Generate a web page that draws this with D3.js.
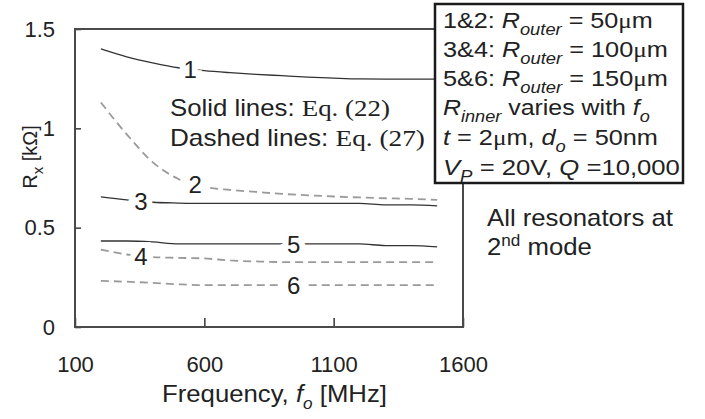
<!DOCTYPE html>
<html>
<head>
<meta charset="utf-8">
<script src="https://cdn.jsdelivr.net/npm/d3@7/dist/d3.min.js"></script>
<style>
  html, body { margin: 0; padding: 0; background: #fff; }
  svg { display: block; }
  text { font-family: "Liberation Sans", Arial, sans-serif; fill: #222; }
  .serif { font-family: "Liberation Serif", "Times New Roman", serif; }
</style>
</head>
<body>
<svg id="chart" width="705" height="419"></svg>
<script>
// Motional resistance Rx vs. frequency for ring resonators (2nd mode)
const freqs = [200, 300, 400, 500, 600, 700, 800, 900, 1000, 1100, 1200, 1300, 1400, 1500];

// Solid lines (Eq. 22) and dashed lines (Eq. 27), values in kΩ
const curve1 = [1.40, 1.36, 1.33, 1.305, 1.29, 1.28, 1.272, 1.265, 1.258, 1.253, 1.249, 1.248, 1.248, 1.248];
const curve2 = [1.13, 0.97, 0.83, 0.745, 0.705, 0.69, 0.68, 0.67, 0.663, 0.657, 0.652, 0.648, 0.645, 0.64];
const curve3 = [0.655, 0.64, 0.628, 0.624, 0.622, 0.622, 0.622, 0.622, 0.622, 0.622, 0.622, 0.615, 0.615, 0.61];
const curve4 = [0.39, 0.365, 0.352, 0.348, 0.345, 0.335, 0.33, 0.327, 0.327, 0.327, 0.327, 0.327, 0.327, 0.327];
const curve5 = [0.433, 0.433, 0.428, 0.418, 0.418, 0.418, 0.418, 0.418, 0.418, 0.418, 0.418, 0.41, 0.41, 0.403];
const curve6 = [0.232, 0.228, 0.222, 0.215, 0.211, 0.211, 0.211, 0.211, 0.211, 0.211, 0.211, 0.211, 0.211, 0.211];

const seriesNames = ["1", "2", "3", "4", "5", "6"];
const seriesData = [curve1, curve2, curve3, curve4, curve5, curve6];
const seriesDashed = [false, true, false, true, false, true];
// where each curve number sits along its curve (MHz)
const labelFreqs = [545, 565, 355, 355, 945, 945];

const xTickValues = [100, 600, 1100, 1600];
const xTickLabels = ["100", "600", "1100", "1600"];
const yTickValues = [0, 0.5, 1, 1.5];
const yTickLabels = ["0", "0.5", "1", "1.5"];

const svg = d3.select("#chart");
const plotL = 75, plotR = 463, plotT = 29, plotB = 327;

const x = d3.scaleLinear().domain([100, 1600]).range([plotL, plotR]);
const y = d3.scaleLinear().domain([0, 1.5]).range([plotB, plotT]);

// stretch a text element horizontally (about its start x) to a given width
function fitWidth(t, x0, width) {
  const w = t.node().getComputedTextLength();
  const s = width / w;
  t.attr("transform", `translate(${x0},0) scale(${s},1) translate(${-x0},0)`);
}

// axes
const xAxis = d3.axisBottom(x)
  .tickValues(xTickValues)
  .tickFormat((d, i) => xTickLabels[i])
  .tickSize(-9)
  .tickPadding(29);
const gx = svg.append("g").attr("transform", `translate(0,${plotB})`).call(xAxis);

const yAxis = d3.axisLeft(y)
  .tickValues(yTickValues)
  .tickFormat((d, i) => yTickLabels[i])
  .tickSize(-6)
  .tickPadding(20);
const gy = svg.append("g").attr("transform", `translate(${plotL},0)`).call(yAxis);

[gx, gy].forEach(g => {
  g.select(".domain").remove();
  g.selectAll(".tick line").attr("stroke", "#444").attr("stroke-width", 1.6);
  g.selectAll(".tick text")
    .style("font-family", '"Liberation Sans", Arial, sans-serif')
    .style("font-size", "22px").attr("fill", "#222");
});

// plot frame
svg.append("rect")
  .attr("x", plotL).attr("y", plotT)
  .attr("width", plotR - plotL).attr("height", plotB - plotT)
  .attr("fill", "none").attr("stroke", "#4a4a4a").attr("stroke-width", 2);

// curves
const line = d3.line()
  .x((d, i) => x(freqs[i]))
  .y(d => y(d))
  .curve(d3.curveMonotoneX);

seriesData.forEach((vals, k) => {
  svg.append("path")
    .datum(vals)
    .attr("d", line)
    .attr("fill", "none")
    .attr("stroke", seriesDashed[k] ? "#9a9a9a" : "#333")
    .attr("stroke-width", seriesDashed[k] ? 1.8 : 1.3)
    .attr("stroke-dasharray", seriesDashed[k] ? "8,5" : null);
});

// curve numbers, sitting on their curves with a white knock-out
seriesNames.forEach((name, k) => {
  const f = labelFreqs[k];
  const v = d3.scaleLinear().domain(freqs).range(seriesData[k])(f);
  svg.append("text")
    .attr("x", x(f)).attr("y", y(v))
    .attr("dy", "0.36em")
    .attr("text-anchor", "middle")
    .style("font-size", "24px")
    .style("paint-order", "stroke")
    .attr("stroke", "#fff").attr("stroke-width", 12)
    .text(name);
});

// line-style note
const note = svg.append("g").style("font-size", "23px");
const n1 = note.append("text").attr("x", 170).attr("y", 116);
n1.append("tspan").text("Solid lines: ");
n1.append("tspan").attr("class", "serif").style("font-size", "24px").text("Eq. (22)");
fitWidth(n1, 170, 220);
const n2 = note.append("text").attr("x", 170).attr("y", 146);
n2.append("tspan").text("Dashed lines: ");
n2.append("tspan").attr("class", "serif").style("font-size", "24px").text("Eq. (27)");
fitWidth(n2, 170, 255);

// parameter box
svg.append("rect")
  .attr("x", 435).attr("y", 4).attr("width", 248).attr("height", 179)
  .attr("fill", "#fff").attr("stroke", "#1a1a1a").attr("stroke-width", 2.5);

const box = svg.append("g").style("font-size", "22px");
const bx = 443;
const lineY = [28, 57, 86, 115, 145, 175];
const lineW = [210, 225, 225, 207, 215, 237];

function addRuns(t, runs) {
  runs.forEach(r => {
    const ts = t.append("tspan").text(r.t);
    if (r.i) ts.style("font-style", "italic");
    if (r.serif) ts.attr("class", "serif");
    if (r.sub) ts.attr("dy", 7).style("font-size", "16px");
    if (r.up) ts.attr("dy", -7);
  });
  return t;
}

const outerRows = [["1&2: ", "50"], ["3&4: ", "100"], ["5&6: ", "150"]];
const boxLines = outerRows.map((row, i) =>
  addRuns(box.append("text").attr("x", bx).attr("y", lineY[i]), [
    { t: row[0] },
    { t: "R", i: true },
    { t: "outer", i: true, sub: true },
    { t: " = " + row[1], up: true },
    { t: "μ", serif: true },
    { t: "m" }
  ]));
boxLines.push(addRuns(box.append("text").attr("x", bx).attr("y", lineY[3]), [
  { t: "R", i: true },
  { t: "inner", i: true, sub: true },
  { t: " varies with ", up: true },
  { t: "f", i: true },
  { t: "o", i: true, sub: true }
]));
boxLines.push(addRuns(box.append("text").attr("x", bx).attr("y", lineY[4]), [
  { t: "t", i: true },
  { t: " = 2" },
  { t: "μ", serif: true },
  { t: "m, " },
  { t: "d", i: true },
  { t: "o", i: true, sub: true },
  { t: " = 50nm", up: true }
]));
boxLines.push(addRuns(box.append("text").attr("x", bx).attr("y", lineY[5]), [
  { t: "V", i: true },
  { t: "P", i: true, sub: true },
  { t: " = 20V, ", up: true },
  { t: "Q", i: true },
  { t: " =10,000" }
]));
boxLines.forEach((t, i) => fitWidth(t, bx, lineW[i]));

// mode note
const mode = svg.append("g").style("font-size", "24px");
const m1 = mode.append("text").attr("x", 487).attr("y", 226).text("All resonators at");
fitWidth(m1, 487, 186);
const m2 = mode.append("text").attr("x", 487).attr("y", 255);
m2.append("tspan").text("2");
m2.append("tspan").attr("dy", -9).style("font-size", "16px").text("nd");
m2.append("tspan").attr("dy", 9).text(" mode");
fitWidth(m2, 487, 105);

// axis titles
const xt = svg.append("text")
  .attr("x", 162).attr("y", 402)
  .style("font-size", "24px");
addRuns(xt, [
  { t: "Frequency, " },
  { t: "f", i: true },
  { t: "o", i: true, sub: true },
  { t: " [MHz]", up: true }
]);
fitWidth(xt, 162, 225);

const yt = svg.append("text")
  .attr("transform", "translate(37,157) rotate(-90)")
  .attr("text-anchor", "middle").style("font-size", "20px");
yt.append("tspan").text("R");
yt.append("tspan").attr("dy", 6).style("font-size", "15px").text("x");
yt.append("tspan").attr("dy", -6).text(" [kΩ]");
</script>
</body>
</html>
